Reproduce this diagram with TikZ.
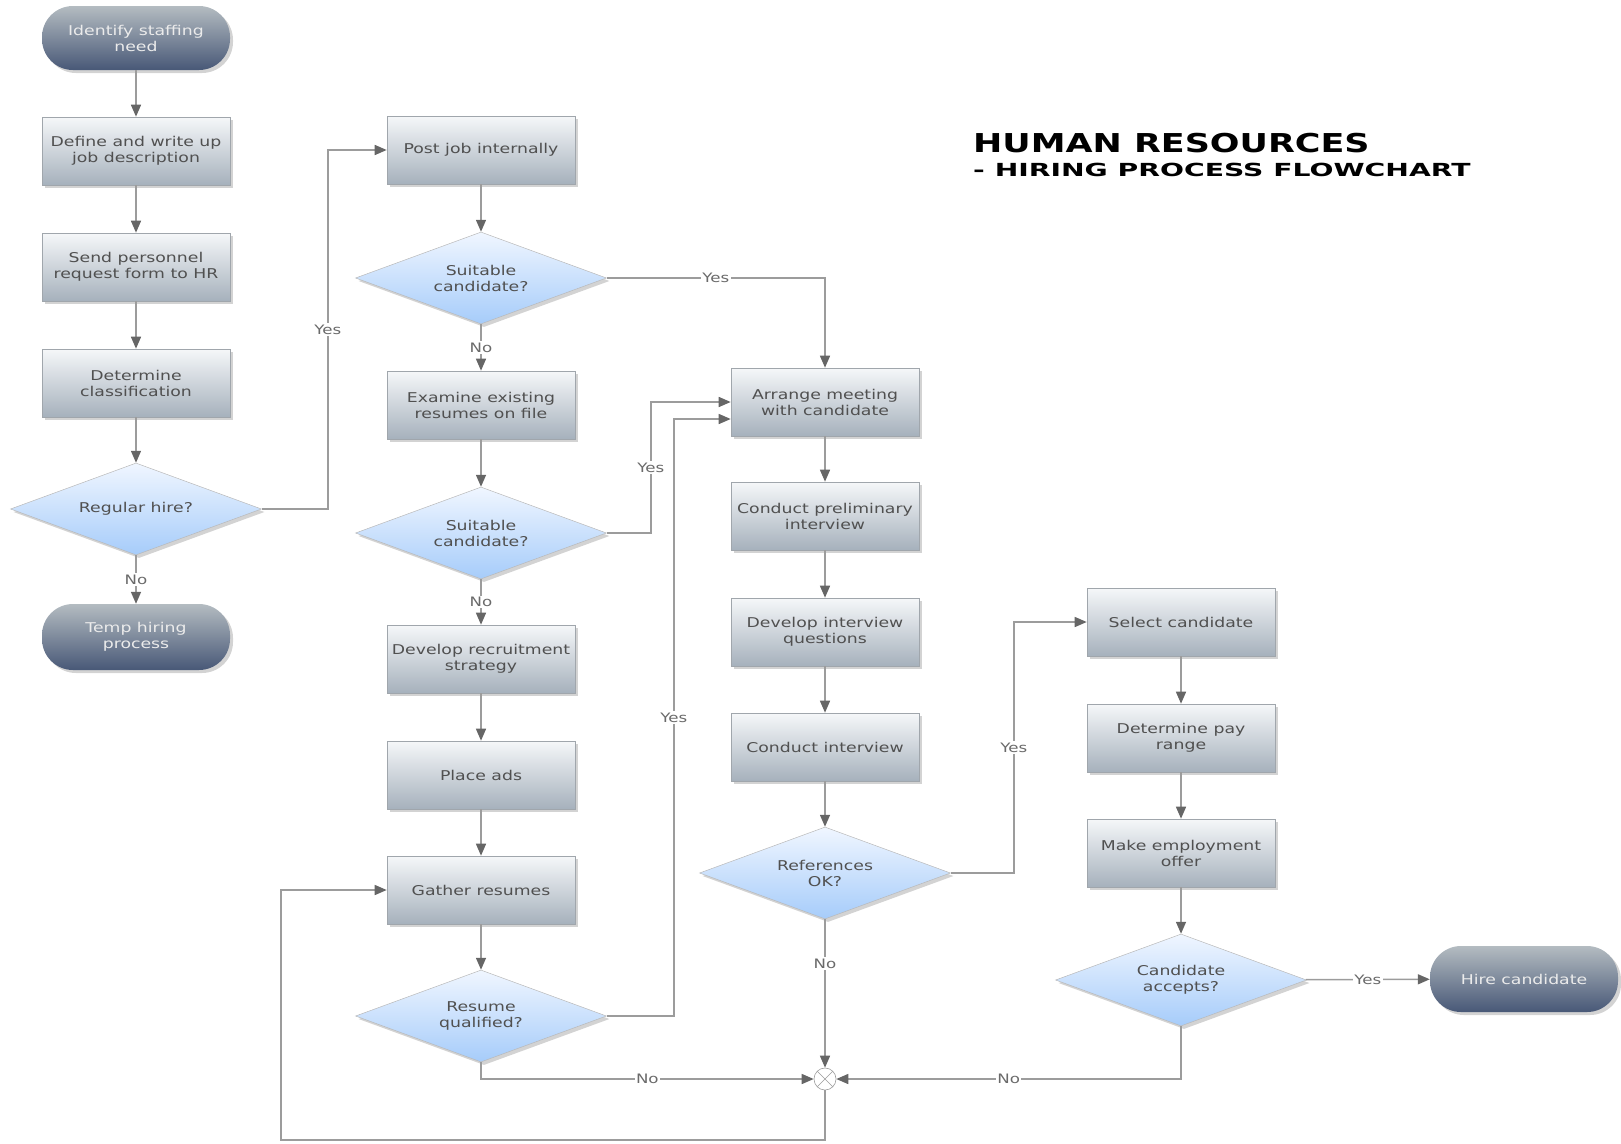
\documentclass[tikz,border=0pt]{standalone}
\usepackage{fontspec}
\setmainfont{DejaVu Sans}[FakeStretch=1.28]
\usetikzlibrary{shapes.geometric,arrows.meta,shadows,calc}
\definecolor{linec}{HTML}{9C9C9C}
\definecolor{tipc}{HTML}{666666}
\definecolor{txtc}{HTML}{505050}
\definecolor{boxtop}{HTML}{F5F7F9}
\definecolor{boxbot}{HTML}{A6B1BC}
\definecolor{boxdraw}{HTML}{A0A6AC}
\definecolor{termtop}{HTML}{B4BCC1}
\definecolor{termbot}{HTML}{485877}
\definecolor{dectop}{HTML}{F0F6FF}
\definecolor{decbot}{HTML}{A6CCFA}
\tikzset{
  shade/.style={drop shadow={shadow xshift=3pt,shadow yshift=-3pt,opacity=0.35}},
  txt/.style={font=\fontsize{13.5}{16}\selectfont, align=center, text=txtc},
  stepbox/.style={txt, rectangle, minimum width=188pt, minimum height=68pt, inner sep=2pt,
    top color=boxtop, bottom color=boxbot, draw=boxdraw, line width=0.6pt, shade},
  term/.style={txt, rectangle, rounded corners=31pt, minimum width=188pt, minimum height=64pt,
    inner sep=2pt, top color=termtop, bottom color=termbot, draw=none, text=white!92!black, shade},
  dec/.style={txt, diamond, aspect=2.7, minimum width=251pt, minimum height=92pt, inner sep=0pt,
    top color=dectop, bottom color=decbot, draw=gray!55, line width=0.5pt, shade},
  junc/.style={circle, draw=linec, fill=white, minimum size=22pt, inner sep=0pt, line width=0.6pt,
    path picture={\draw[linec, line width=0.6pt]
      (path picture bounding box.north west) -- (path picture bounding box.south east)
      (path picture bounding box.north east) -- (path picture bounding box.south west);}},
  arr/.style={draw=linec, line width=1.5pt, -{Triangle[length=12pt,width=10pt,color=tipc]}},
  lbl/.style={font=\fontsize{13}{15}\selectfont, text=txtc!85, fill=white, inner sep=1.5pt},
  ttl/.style={anchor=base west, inner sep=0pt, text=black}
}
\begin{document}
\begin{tikzpicture}[x=1pt,y=-1pt]
\useasboundingbox (0,0) rectangle (1621,1143);

% column 1
\node[term] (start) at (136,38) {Identify staffing\\need};
\node[stepbox] (define) at (136,151) {Define and write up\\job description};
\node[stepbox] (send) at (136,267) {Send personnel\\request form to HR};
\node[stepbox] (classif) at (136,383) {Determine\\classification};
\node[dec] (regular) at (136,509) {Regular hire?};
\node[term, minimum height=66pt] (temp) at (136,637) {Temp hiring\\process};

% column 2
\node[stepbox] (post) at (481,150) {Post job internally};
\node[dec] (suit1) at (481,278) {Suitable\\candidate?};
\node[stepbox] (examine) at (481,405) {Examine existing\\resumes on file};
\node[dec] (suit2) at (481,533) {Suitable\\candidate?};
\node[stepbox] (strategy) at (481,659) {Develop recruitment\\strategy};
\node[stepbox] (ads) at (481,775) {Place ads};
\node[stepbox] (gather) at (481,890) {Gather resumes};
\node[dec] (resume) at (481,1016) {Resume\\qualified?};

% column 3
\node[stepbox] (arrange) at (825,402) {Arrange meeting\\with candidate};
\node[stepbox] (prelim) at (825,516) {Conduct preliminary\\interview};
\node[stepbox] (questions) at (825,632) {Develop interview\\questions};
\node[stepbox] (interview) at (825,747) {Conduct interview};
\node[dec] (refs) at (825,873) {References\\OK?};
\node[junc] (junc) at (825,1079) {};

% column 4
\node[stepbox] (select) at (1181,622) {Select candidate};
\node[stepbox] (pay) at (1181,738) {Determine pay\\range};
\node[stepbox] (offer) at (1181,853) {Make employment\\offer};
\node[dec] (accepts) at (1181,980) {Candidate\\accepts?};
\node[term, minimum height=66pt] (hire) at (1524,979) {Hire candidate};

% title
\node[ttl, font=\fontsize{26}{30}\selectfont\bfseries] (t1) at (973,152) {\scalebox{1.05}[1]{HUMAN RESOURCES}};
\node[ttl, font=\fontsize{18}{22}\selectfont\bfseries] (t2) at (973,176) {\scalebox{1.225}[1]{- HIRING PROCESS FLOWCHART}};

\coordinate (loopL) at (281,1140);

% column 1 connectors
\draw[arr] (start) -- (define);
\draw[arr] (define) -- (send);
\draw[arr] (send) -- (classif);
\draw[arr] (classif) -- (regular);
\draw[arr] (regular) -- node[lbl]{No} (temp);
\draw[arr] (regular.east) -- ++(66,0) |- node[lbl,pos=0.25]{Yes} (post.west);

% column 2 connectors
\draw[arr] (post) -- (suit1);
\draw[arr] (suit1) -- node[lbl]{No} (examine);
\draw[arr] (suit1.east) -| node[lbl,pos=0.25]{Yes} (arrange.north);
\draw[arr] (examine) -- (suit2);
\draw[arr] (suit2) -- node[lbl]{No} (strategy);
\draw[arr] (suit2.east) -- ++(44,0) |- node[lbl,pos=0.25]{Yes} (arrange.west);
\draw[arr] (strategy) -- (ads);
\draw[arr] (ads) -- (gather);
\draw[arr] (gather) -- (resume);
\draw[arr] (resume.east) -- ++(67,0) |- node[lbl,pos=0.25]{Yes} ($(arrange.west)+(0,17)$);
\draw[arr] (resume.south) |- node[lbl,pos=0.75]{No} (junc.west);

% column 3 connectors
\draw[arr] (arrange) -- (prelim);
\draw[arr] (prelim) -- (questions);
\draw[arr] (questions) -- (interview);
\draw[arr] (interview) -- (refs);
\draw[arr] (refs) -- node[lbl,pos=0.3]{No} (junc);
\draw[arr] (refs.east) -- ++(63,0) |- node[lbl,pos=0.25]{Yes} (select.west);
\draw[arr] (junc.south) |- (loopL) |- (gather.west);

% column 4 connectors
\draw[arr] (select) -- (pay);
\draw[arr] (pay) -- (offer);
\draw[arr] (offer) -- (accepts);
\draw[arr] (accepts) -- node[lbl]{Yes} (hire);
\draw[arr] (accepts.south) |- node[lbl,pos=0.75]{No} (junc.east);
\end{tikzpicture}
\end{document}
